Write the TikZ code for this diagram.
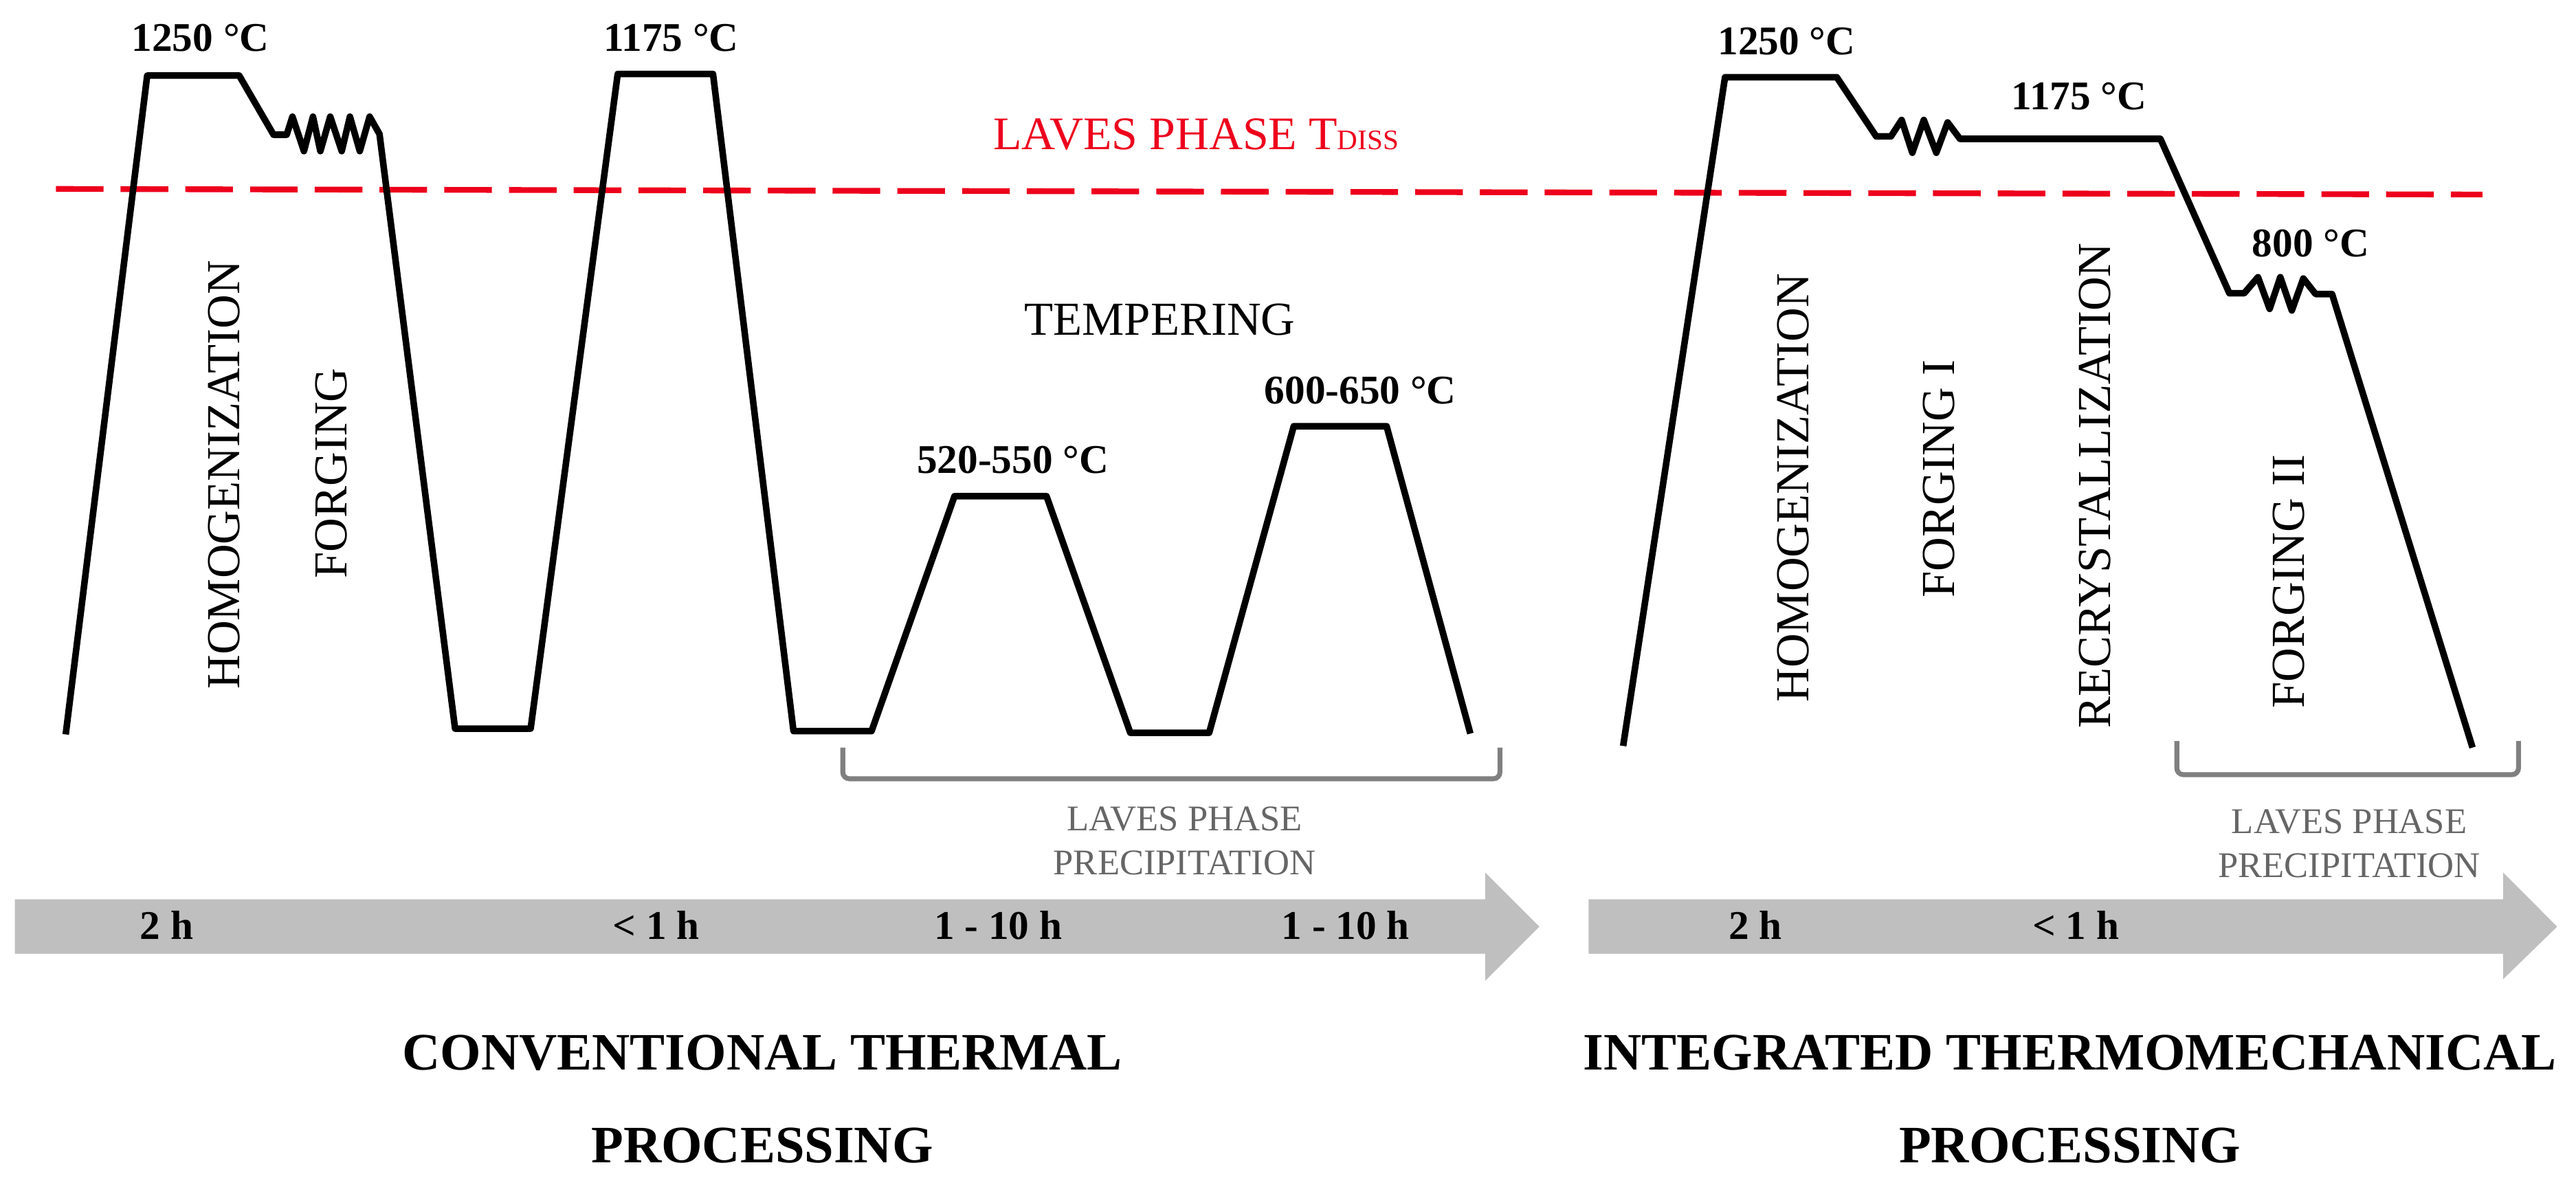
\documentclass[tikz,border=0pt]{standalone}
\usepackage{fontspec}
\setmainfont{Liberation Serif}
\usepackage{xcolor}
\usepackage{tikz}

\definecolor{lavesred}{RGB}{237,0,28}
\definecolor{arrowgray}{RGB}{191,191,191}
\definecolor{bracketgray}{RGB}{128,128,128}
\definecolor{precipgray}{RGB}{102,102,102}

\tikzset{
    curve/.style={line width=2pt, line join=round},
    tdiss/.style={draw=lavesred, line width=1.75pt, dash pattern=on 14.5pt off 5.2pt},
    stage/.style={font=\fontsize{14.4}{17}\selectfont},
    vstage/.style={stage, rotate=90},
    temp/.style={font=\bfseries\fontsize{12.4}{15}\selectfont},
    hours/.style={font=\bfseries\fontsize{12.4}{15}\selectfont},
    bracket/.style={draw=bracketgray, line width=1.5pt, rounded corners=2pt},
    precip/.style={text=precipgray, align=center, font=\fontsize{11}{13.3}\selectfont},
    timearrow/.style={fill=arrowgray},
    title/.style={align=center, font=\bfseries\fontsize{16}{28.2}\selectfont}
}

\begin{document}
\begin{tikzpicture}[x=0.5pt, y=-0.5pt]
        \useasboundingbox (0,0) rectangle (1568,721);
        \draw[tdiss] (34,115) -- (1511,118.4);
        \node[text=lavesred, font=\fontsize{14.2}{17}\selectfont] (tdiss) at (728,82) {LAVES PHASE T{\fontsize{8.6}{10}\selectfont DISS}};

        \draw[curve] (40,447) -- (89.6,46) -- (145.6,46) -- (166.5,82) -- (174.5,82)
            -- (178,71) -- (185,92) -- (190.5,71) -- (195,92) -- (201,71) -- (208,92)
            -- (213,71) -- (219,92) -- (225,71) -- (231,81.6) -- (277,443.5) -- (323,443.5)
            -- (376,45) -- (434,45) -- (483,445) -- (530.5,445) -- (581,302) -- (637,302)
            -- (688,446) -- (736,446) -- (787.5,259.4) -- (844,259.4) -- (895,446.5);
        \node[temp] (hot1) at (122,23) {1250 °C};
        \node[temp] (hot2) at (408.5,23) {1175 °C};
        \node[temp] (temp1) at (616.5,280) {520-550 °C};
        \node[temp] (temp2) at (828,237.5) {600-650 °C};
        \node[vstage] (homog) at (136.5,289) {HOMOGENIZATION};
        \node[vstage] (forge) at (201.5,288) {FORGING};
        \node[stage] (temper) at (706,194.5) {TEMPERING};
        \draw[bracket] (513,455) -- (513,474) -- (913,474) -- (913,455);
        \node[precip] (lavesA) at (721,511.8) {LAVES PHASE\\PRECIPITATION};

        \fill[timearrow] (9,547.4) -- (904,547.4) -- (904,531) -- (937,564) -- (904,597) -- (904,580.5) -- (9,580.5) -- cycle;
        \node[hours] (hA1) at (101.5,563) {2 h};
        \node[hours] (hA2) at (399.5,563) {< 1 h};
        \node[hours] (hA3) at (607.5,563) {1 - 10 h};
        \node[hours] (hA4) at (819,563) {1 - 10 h};
        \node[title] (convtitle) at (464,668.8) {CONVENTIONAL THERMAL\\PROCESSING};

        \draw[curve] (988,454) -- (1050,47) -- (1118,47) -- (1142,83) -- (1151,83)
            -- (1157.5,73) -- (1164,93) -- (1171,73) -- (1178.6,93) -- (1185.5,74.5) -- (1193,84.5)
            -- (1315,84.5) -- (1357,178.5) -- (1366,178.5)
            -- (1374.4,168.7) -- (1381.5,188) -- (1388,168.7) -- (1395,189) -- (1402,169.5) -- (1409.5,179)
            -- (1419.5,179) -- (1505,455);
        \node[temp] (hot3) at (1087.5,25) {1250 °C};
        \node[temp] (hot4) at (1265.6,58.5) {1175 °C};
        \node[temp] (warm) at (1406.5,148) {800 °C};
        \node[vstage] (homogB) at (1091.7,297) {HOMOGENIZATION};
        \node[vstage] (forgeI) at (1180,291.5) {FORGING I};
        \node[vstage] (recryst) at (1275,295.5) {RECRYSTALLIZATION};
        \node[vstage] (forgeII) at (1393,354) {FORGING II};
        \draw[bracket] (1325,451) -- (1325,471.5) -- (1533,471.5) -- (1533,451);
        \node[precip] (lavesB) at (1430,513.5) {LAVES PHASE\\PRECIPITATION};

        \fill[timearrow] (967,547.4) -- (1523.6,547.4) -- (1523.6,531) -- (1556.5,564) -- (1523.6,596) -- (1523.6,580.5) -- (967,580.5) -- cycle;
        \node[hours] (hB1) at (1068.5,563) {2 h};
        \node[hours] (hB2) at (1263.5,563) {< 1 h};
        \node[title] (itmptitle) at (1260,668.8) {INTEGRATED THERMOMECHANICAL\\PROCESSING};
\end{tikzpicture}
\end{document}
